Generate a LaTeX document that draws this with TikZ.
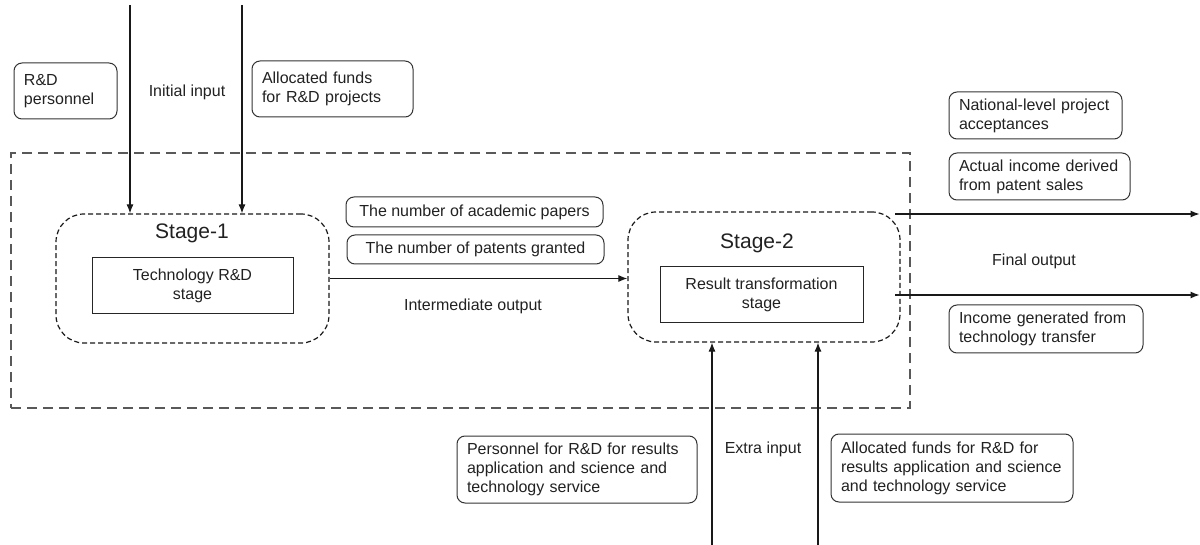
\documentclass[tikz,border=0pt]{standalone}
\usepackage{fontspec}
\setmainfont{Liberation Sans}
\usetikzlibrary{arrows.meta}
\begin{document}
\begin{tikzpicture}[x=0.5pt,y=-0.5pt,
  font=\fontsize{8}{9.5}\selectfont,
  lbox/.style={draw=black!80, line width=0.5pt, rounded corners=4pt, inner xsep=5pt, inner ysep=0pt, align=left, text=black!87},
  cbox/.style={draw=black!80, line width=0.5pt, rounded corners=4pt, inner sep=0pt, align=center, text=black!87},
  sbox/.style={draw=black!85, line width=0.5pt, inner sep=0pt, align=center, text=black!87},
  stagebox/.style={draw=black!90, line width=0.6pt, rounded corners=14pt, dash pattern=on 2.5pt off 1.5pt, inner sep=0pt},
  outerbox/.style={draw=black!65, line width=0.75pt, dash pattern=on 5pt off 3pt, inner sep=0pt},
  arr/.style={draw=black!90, line width=0.55pt, -{Latex[length=4.5pt,width=3.5pt]}},
  stitle/.style={font=\fontsize{10.5}{12}\selectfont, text=black!87},
  lbl/.style={text=black!87}
]
\useasboundingbox (0,0) rectangle (1200,545);

% outer dashed frame
\node[outerbox, minimum width=449.5pt, minimum height=127.5pt] (outer) at (460.5,280.5) {};

% initial inputs
\node[lbox, text width=41.5pt, minimum height=28pt] (rd) at (65.5,91) {R\&D\\personnel};
\node[lbox, text width=70.5pt, minimum height=28pt] (fund1) at (332.5,89) {Allocated funds\\for R\&D projects};
\node[lbl] (initin) at (187,92) {Initial input};

% stage 1
\node[stagebox, minimum width=136.5pt, minimum height=64.5pt] (s1) at (192.5,278.5) {};
\node[stitle] (s1t) at (192,233) {Stage-1};
\node[sbox, minimum width=100.5pt, minimum height=28pt] (tech) at (192.5,286) {Technology R\&D\\stage};

% stage 2
\node[stagebox, minimum width=136pt, minimum height=65pt] (s2) at (764,277) {};
\node[stitle] (s2t) at (757,243) {Stage-2};
\node[sbox, minimum width=101.5pt, minimum height=28pt] (res) at (761.5,295) {Result transformation\\stage};

% intermediate outputs
\node[cbox, minimum width=128.5pt, minimum height=15pt] (pap) at (474.5,212) {The number of academic papers};
\node[cbox, minimum width=128.5pt, minimum height=14.5pt] (pat) at (475.5,249.5) {The number of patents granted};
\node[lbl] (interout) at (473,306) {Intermediate output};

% final outputs
\node[lbox, text width=76.5pt, minimum height=23.5pt] (nat) at (1035.5,115.5) {National-level project\\acceptances};
\node[lbox, text width=80.5pt, minimum height=23.5pt] (act) at (1039.5,176.5) {Actual income derived\\from patent sales};
\node[lbox, text width=87pt, minimum height=24pt] (inc) at (1046,329) {Income generated from\\technology transfer};
\node[lbl] (finout) at (1034,261) {Final output};

% extra inputs
\node[lbox, text width=110pt, minimum height=33.5pt] (pers2) at (577,469.5) {Personnel for R\&D for results\\application and science and\\technology service};
\node[lbox, text width=111pt, minimum height=34pt] (fund2) at (952,468) {Allocated funds for R\&D for\\results application and science\\and technology service};
\node[lbl] (extrain) at (763,449) {Extra input};

% connectors
\coordinate (a1) at (130,5);
\coordinate (a2) at (242,5);
\draw[arr] (a1) -- (a1 |- s1.north);
\draw[arr] (a2) -- (a2 |- s1.north);

\draw[arr] (s1.east) -- (s1.east -| s2.west);

\coordinate (o1s) at (895,214);
\coordinate (o1e) at (1199.5,214);
\coordinate (o2s) at (895,295);
\coordinate (o2e) at (1199.5,295);
\draw[arr] (o1s) -- (o1e);
\draw[arr] (o2s) -- (o2e);

\coordinate (b1) at (712,545);
\coordinate (b2) at (818,545);
\draw[arr] (b1) -- (b1 |- s2.south);
\draw[arr] (b2) -- (b2 |- s2.south);
\end{tikzpicture}
\end{document}
